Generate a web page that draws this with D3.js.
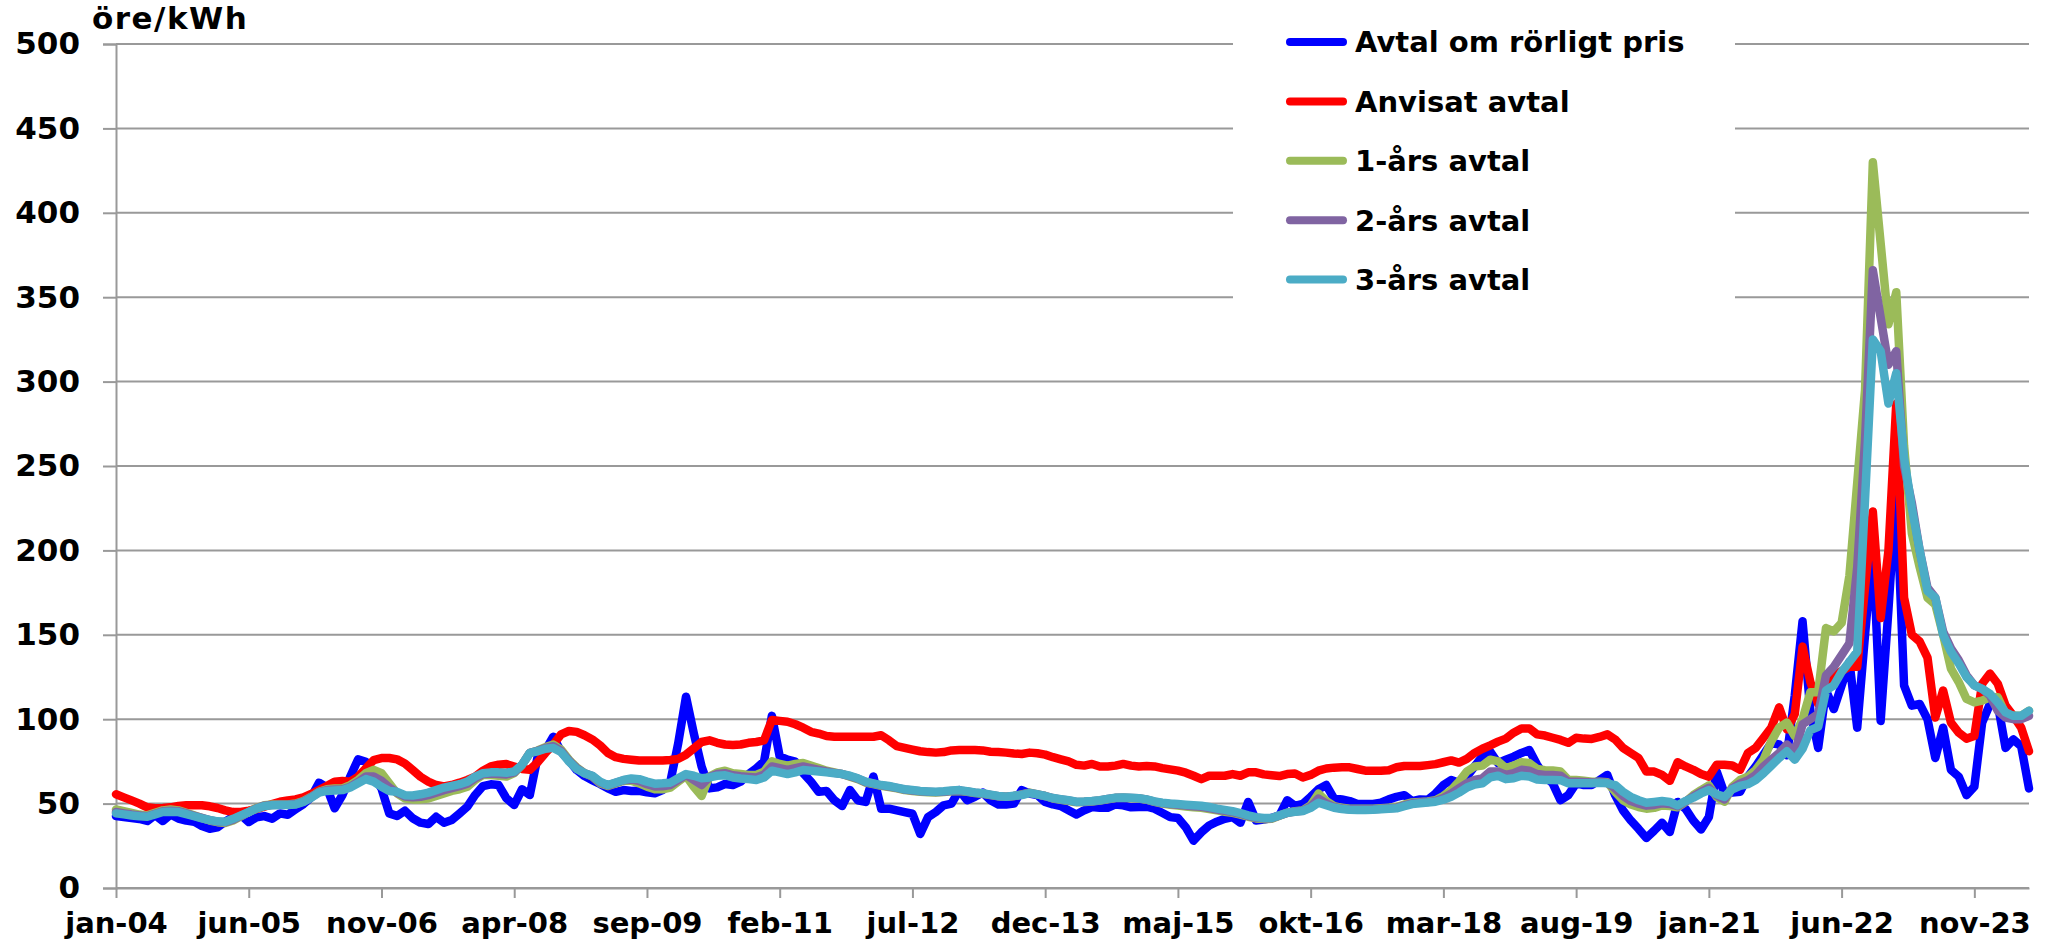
<!DOCTYPE html>
<html>
<head>
<meta charset="utf-8">
<script src="https://cdn.jsdelivr.net/npm/d3@7"></script>
<style>
  body { margin: 0; background: #fff; }
  svg text { font-family: "DejaVu Sans", Verdana, sans-serif; font-weight: bold; fill: #000; }
</style>
</head>
<body>
<div id="chart"></div>
<script>
const fig_width = 2068
const fig_height = 947

// month names used on the category axis (Swedish)
const monthNames = ['jan', 'feb', 'mar', 'apr', 'maj', 'jun', 'jul', 'aug', 'sep', 'okt', 'nov', 'dec']
const startYear = 2004
const nMonths = 246   // jan-04 .. jun-24

const tickLabels = ['jan-04', 'jun-05', 'nov-06', 'apr-08', 'sep-09', 'feb-11', 'jul-12', 'dec-13',
                    'maj-15', 'okt-16', 'mar-18', 'aug-19', 'jan-21', 'jun-22', 'nov-23']
const yTicks = [0, 50, 100, 150, 200, 250, 300, 350, 400, 450, 500]

const seriesNames = ['Avtal om rörligt pris', 'Anvisat avtal', '1-års avtal', '2-års avtal', '3-års avtal']
const seriesColours = ['#0000FF', '#FF0000', '#9BBB59', '#8064A2', '#4BACC6']

// öre/kWh, monthly
const rorligt = [
  42.6, 42.0, 41.5, 40.9, 39.7, 43.2, 39.7, 43.6, 41.1, 39.9,
  39.3, 36.7, 35.1, 35.9, 39.3, 42.2, 43.2, 39.1, 41.9, 42.6,
  41.1, 44.2, 43.4, 46.6, 49.7, 53.7, 62.4, 59.6, 47.2, 55.1,
  65.9, 76.2, 74.8, 66.3, 59.0, 44.2, 42.6, 45.8, 41.3, 38.7,
  37.9, 42.2, 38.7, 40.3, 44.2, 48.2, 55.1, 60.4, 61.4, 61.0,
  53.1, 49.2, 58.5, 55.1, 77.8, 81.7, 89.6, 80.8, 75.8, 69.9,
  66.3, 63.9, 61.6, 59.0, 57.0, 58.0, 57.5, 57.6, 56.7, 56.1,
  58.0, 63.0, 85.7, 113.3, 91.6, 71.9, 59.0, 59.6, 61.6, 61.0,
  63.0, 67.5, 70.9, 75, 102, 78, 76, 74.8, 68, 63,
  57, 57.5, 52, 48.6, 58, 52, 51, 66, 47, 47,
  46, 45, 44, 32, 42, 45, 49, 50, 58, 52,
  54, 56.5, 52, 49.5, 49.5, 50, 58, 56, 55, 51,
  49.5, 48.6, 46, 43.5, 46, 48, 47.5, 47.5, 49.5, 49,
  47.8, 48, 48.2, 47, 44.5, 42, 41.5, 36, 28, 33,
  37, 39.3, 41, 42, 38.7, 51, 40, 40.5, 41.5, 43,
  52, 48.6, 49.8, 54, 58.5, 61, 53, 52.5, 51.5, 49.8,
  49.8, 49.8, 50.5, 52.5, 54, 55, 51.5, 52.5, 52.3, 56,
  61, 64, 62.4, 66, 72, 78, 80.8, 74, 76, 77.8,
  80, 81.7, 73, 66, 62, 52, 55, 62, 61, 61,
  64, 67, 55, 46, 40, 35, 29.6, 34, 38.7, 33.2,
  51, 47, 40, 34.6, 42, 69, 56, 56.5, 57, 66,
  72, 79, 86, 85, 78.6, 114, 158, 105, 83, 117,
  106, 120, 134, 95, 150, 203, 99, 165, 236, 120,
  108, 109, 100, 77, 95, 70, 66, 55, 60, 98,
  109, 109, 83, 88, 84, 59
]
const anvisat = [
  55.5, 53.7, 51.9, 50.0, 47.8, 47.2, 47.4, 47.8, 48.6, 49.0,
  49.0, 49.0, 48.4, 47.4, 46.0, 45.0, 45.0, 45.8, 46.8, 48.2,
  49.7, 51.1, 51.9, 52.5, 53.7, 55.7, 58.0, 60.4, 63.0, 63.4,
  63.0, 65.9, 70.9, 75.8, 77.0, 77.0, 76.2, 73.8, 69.9, 65.9,
  63.0, 61.0, 60.2, 61.0, 62.4, 64.0, 66.0, 69.5, 72.0, 73.0,
  73.4, 72.0, 70.5, 70.0, 74.5, 80.0, 85.0, 91.0, 93.0, 92.5,
  90.5, 88, 84.5, 80, 77.5, 76.5, 76, 75.5, 75.5, 75.5,
  75.5, 75.8, 76.5, 79, 82.7, 86.5, 87.5, 86, 85, 84.7,
  85, 86, 86.5, 87.5, 99.5, 99, 98.5, 97, 95, 92.5,
  91.5, 90, 89.6, 89.6, 89.6, 89.6, 89.6, 89.6, 90.5, 87.5,
  84, 83, 82, 81, 80.5, 80.2, 80.5, 81.5, 81.7, 81.7,
  81.7, 81.5, 80.7, 80.5, 80.2, 79.7, 79.4, 80.2, 79.8, 79,
  77.5, 76.2, 75, 73, 72.5, 73.5, 72, 72, 72.5, 73.5,
  72.5, 72, 72.3, 72, 71, 70.3, 69.5, 68.3, 66.5, 64.5,
  66.5, 66.5, 66.5, 67.5, 66.5, 68.5, 68.5, 67.3, 66.8, 66.3,
  67.5, 67.8, 65.5, 67, 69.5, 70.8, 71.3, 71.5, 71.5, 70.5,
  69.5, 69.5, 69.5, 69.8, 71.5, 72.3, 72.3, 72.3, 72.8, 73.4,
  74.5, 75.6, 74.3, 76.5, 80, 82.5, 84.5, 86.7, 88.5, 92,
  94.5, 94.5, 91, 90.3, 89, 87.7, 86, 89, 88.5, 88.3,
  89.5, 91, 88, 83, 80, 77, 69, 69, 67, 63.5,
  74.5, 72, 70, 67.5, 66, 73, 73, 72.6, 70, 80,
  83, 89, 95, 107, 94, 103, 143, 122, 109, 122,
  125.5, 128.5, 131, 131, 178, 223, 160, 200, 287, 172,
  150, 146, 136.5, 101, 117, 98, 92, 88.5, 90, 121,
  127, 121, 108, 102, 95, 81
]
const ettars = [
  46.5, 45.5, 44.5, 43.5, 43.0, 44.5, 46.0, 46.5, 46.0, 44.5,
  43.0, 41.5, 40.0, 39.0, 38.5, 40.0, 42.5, 45.0, 47.5, 49.0,
  49.5, 49.5, 49.5, 50.0, 51.5, 54.0, 57.0, 58.5, 59.0, 59.0,
  61.0, 64.0, 68.0, 70.0, 68.0, 62.0, 56.0, 53.0, 52.5, 52.5,
  53.0, 54.5, 56.0, 57.5, 58.5, 60.0, 64.0, 67.0, 67.0, 66.5,
  66.0, 68.0, 73.0, 80.0, 81.5, 83.5, 85.0, 82.0, 76.0, 71.5,
  68.0, 66, 62, 60.5, 62, 63.5, 63.5, 62, 60, 58.5,
  58.5, 59.5, 63, 66.5, 60, 54.5, 66, 68.5, 69.5, 68,
  67.5, 67, 67, 69, 75, 73.5, 72.5, 73.5, 74, 72.5,
  71, 69.5, 68.5, 67.5, 66, 64.5, 62.5, 61.5, 60.5, 59.8,
  59, 58, 57.5, 57, 56.7, 56.5, 56.8, 57.3, 57.5, 57,
  56.3, 55.8, 55, 54.3, 54, 54.5, 55.5, 56.5, 55.5, 54.5,
  53, 52.3, 51.5, 50.8, 51, 51.3, 51.8, 52.5, 53.3, 53.5,
  53.2, 53, 52.3, 51, 50, 49.3, 48.8, 48.3, 47.8, 47.5,
  46.8, 46, 45.2, 44.5, 43.5, 42.2, 41.2, 40.8, 41, 42.8,
  44.5, 45.5, 46, 49, 56, 51.5, 48.5, 47.5, 47, 47,
  47, 47, 47.3, 47.6, 48, 49.5, 50.7, 51, 51.3, 52,
  54.5, 58, 63, 69, 72, 72.5, 76, 75, 71, 72.5,
  74.5, 74, 70.5, 69.8, 69.6, 69, 64, 64, 63.5, 63,
  63, 62.6, 57, 52, 49.5, 48, 47, 47.5, 48.9, 48.5,
  47.8, 51, 55, 58, 60.7, 54, 51.1, 60, 64, 66,
  70, 76, 87, 95, 98, 90, 100, 116, 116, 154,
  152, 157, 185, 240, 295, 430, 382, 334, 353, 262,
  210, 190, 172, 168, 150, 130, 122, 112, 110, 111,
  113, 113, 103, 102, 102, 105
]
const tvaars = [
  45.0, 44.2, 43.5, 43.0, 42.5, 44.0, 45.5, 45.8, 45.5, 44.2,
  42.8, 41.5, 40.2, 39.3, 39.0, 40.5, 42.8, 45.0, 47.2, 48.8,
  49.2, 49.3, 49.3, 49.7, 51.2, 53.8, 56.8, 58.0, 58.3, 58.5,
  60.0, 62.8, 66.0, 66.0, 63.5, 59.5, 56.5, 54.2, 53.8, 54.0,
  55.0, 56.5, 58.0, 59.2, 60.3, 61.8, 65.0, 67.5, 67.8, 67.6,
  67.3, 68.5, 73.0, 80.0, 81.3, 83.0, 84.0, 81.2, 75.5, 71.0,
  68, 66.3, 62.5, 60.8, 62.3, 63.8, 64.3, 63.3, 61.5, 60.2,
  60.3, 61, 64, 67, 64, 61, 65.8, 67.5, 68, 66.8,
  66.2, 65.8, 65.5, 67.2, 72, 71, 70, 71, 72, 71,
  70, 69, 68.2, 67.5, 66.2, 64.8, 62.8, 61.8, 60.8, 60.1,
  59.3, 58.3, 57.8, 57.3, 57, 56.8, 57, 57.5, 57.8, 57.2,
  56.5, 56, 55.2, 54.4, 54, 54.5, 55.3, 56.4, 55.5, 54.5,
  53.2, 52.5, 51.8, 51, 51.1, 51.4, 51.9, 52.7, 53.4, 53.5,
  53.3, 53.1, 52.4, 51.2, 50.3, 49.7, 49.3, 48.8, 48.4, 48.1,
  47.4, 46.5, 45.8, 45, 44, 42.6, 41.6, 41.2, 41.3, 42.9,
  44.5, 45.3, 45.8, 48.2, 53, 50.2, 48, 47.1, 46.6, 46.6,
  46.6, 46.6, 47, 47.2, 47.6, 49, 50.2, 50.6, 51, 51.6,
  53.4, 56, 59, 62, 64, 65, 69, 69, 67, 68,
  70, 69.5, 67.5, 67, 67, 66.5, 63, 63, 62.8, 62.5,
  62.6, 62.3, 59, 54.5, 51.5, 50, 48.8, 49.2, 50.2, 49.8,
  48.4, 51.2, 54.2, 57, 59.3, 54.8, 52.5, 59.2, 62, 63.8,
  67, 72, 76, 80, 85, 80, 97, 100, 103, 126,
  131, 138, 145, 190, 265, 366, 338, 310, 318, 250,
  228, 200, 178, 172, 152, 142, 135, 126, 120, 118,
  114, 105, 101, 100, 100, 102
]
const trears = [
  44.2, 43.6, 43.0, 42.5, 42.2, 43.6, 45.0, 45.2, 45.0, 43.8,
  42.5, 41.3, 40.3, 39.5, 39.3, 41.0, 43.0, 45.0, 47.0, 48.5,
  49.0, 49.2, 49.2, 49.5, 51.0, 53.5, 56.5, 57.5, 57.8, 58.0,
  59.5, 62.0, 64.5, 63.0, 60.0, 57.5, 57.0, 55.0, 54.8, 55.5,
  56.5, 58.0, 59.5, 60.5, 61.5, 63.0, 66.0, 68.0, 68.5, 68.5,
  68.3, 69.0, 73.0, 80.0, 81.0, 82.5, 83.0, 80.5, 75.0, 70.5,
  68.0, 66.5, 63, 61, 62.5, 64, 64.9, 64.5, 63, 61.8,
  62, 62.4, 65, 67.5, 66.5, 65, 65.5, 66.5, 66.8, 65.5,
  64.9, 64.5, 64, 65.5, 69.5, 68.5, 67.5, 68.5, 69.9, 69.5,
  69, 68.5, 68, 67.5, 66.5, 65, 63, 62, 61, 60.4,
  59.5, 58.5, 58, 57.5, 57.2, 57, 57.3, 57.8, 58, 57.3,
  56.6, 56.1, 55.3, 54.5, 54.1, 54.6, 55.1, 56.2, 55.5, 54.5,
  53.3, 52.6, 52, 51.1, 51.2, 51.5, 52, 52.8, 53.5, 53.6,
  53.4, 53.2, 52.5, 51.3, 50.5, 50, 49.7, 49.3, 49, 48.7,
  48, 47, 46.3, 45.5, 44.4, 43, 42, 41.5, 41.5, 43,
  44.6, 45.2, 45.6, 47.5, 50.5, 49, 47.5, 46.8, 46.3, 46.2,
  46.2, 46.3, 46.6, 46.9, 47.2, 48.5, 49.7, 50.2, 50.7, 51.1,
  52.3, 54, 56.5, 59.5, 61.3, 62, 65.5, 66.5, 64.5, 65,
  66.5, 66, 64.3, 64, 64, 63.9, 62, 62, 62, 62,
  62.3, 62, 61, 57, 54, 52, 50.5, 51, 51.5, 51,
  49, 51.5, 53.5, 56, 58, 55.5, 54, 58.5, 60.5, 61.5,
  64, 68, 72.5, 77, 81, 76, 82.5, 93.5, 95.5, 117,
  120, 128, 134, 140, 230, 325, 318, 287, 305, 255,
  225, 200, 176, 172, 150, 140, 133, 125, 120, 118,
  115, 110, 104, 102, 102, 105
]
const seriesValues = [rorligt, anvisat, ettars, tvaars, trears]

// category labels, e.g. "jan-04"
const categories = d3.range(nMonths).map(i =>
  `${monthNames[i % 12]}-${String((startYear + Math.floor(i / 12)) % 100).padStart(2, '0')}`)

const plotLeft = 116
const plotRight = 2029
const plotTop = 44
const plotBottom = 888

let x = d3.scalePoint().domain(categories).range([plotLeft, plotRight])
let y = d3.scaleLinear().domain([0, 500]).range([plotBottom, plotTop])

let fig = d3.select('#chart')
  .append('svg')
  .attr('width', fig_width)
  .attr('height', fig_height)

// horizontal gridlines
fig.append('g')
  .selectAll('line')
  .data(yTicks)
  .join('line')
  .attr('x1', plotLeft)
  .attr('x2', plotRight)
  .attr('y1', d => y(d))
  .attr('y2', d => y(d))
  .attr('stroke', '#999')
  .attr('stroke-width', 2)

// y axis
let yAxis = fig.append('g')
  .attr('transform', `translate(${plotLeft},0)`)
  .call(d3.axisLeft(y).tickValues(yTicks).tickSize(13).tickPadding(23))
yAxis.select('.domain').attr('stroke', '#999').attr('stroke-width', 2)
yAxis.selectAll('.tick line').attr('stroke', '#999').attr('stroke-width', 2)
yAxis.selectAll('.tick text').style('font-size', '31px')

// x axis
let xAxis = fig.append('g')
  .attr('transform', `translate(0,${plotBottom})`)
  .call(d3.axisBottom(x).tickValues(tickLabels).tickSize(10).tickPadding(14).tickSizeOuter(0))
xAxis.select('.domain').attr('stroke', '#999').attr('stroke-width', 2)
xAxis.selectAll('.tick line').attr('stroke', '#999').attr('stroke-width', 2)
xAxis.selectAll('.tick text').style('font-size', '29px')

// unit label
fig.append('text')
  .attr('x', 92)
  .attr('y', 29)
  .style('font-size', '31px')
  .style('letter-spacing', '1.5px')
  .text('öre/kWh')

// white legend box sits over the gridlines
fig.append('rect')
  .attr('x', 1233)
  .attr('y', 6)
  .attr('width', 502)
  .attr('height', 306)
  .attr('fill', '#fff')

// series lines
let line = d3.line()
  .x((d, i) => x(categories[i]))
  .y(d => y(d))

fig.append('g')
  .selectAll('path')
  .data(seriesValues)
  .join('path')
  .attr('d', d => line(d))
  .attr('fill', 'none')
  .attr('stroke', (d, i) => seriesColours[i])
  .attr('stroke-width', 8.5)
  .attr('stroke-linejoin', 'round')
  .attr('stroke-linecap', 'round')

// legend
let legend = fig.append('g')
  .selectAll('g')
  .data(seriesNames)
  .join('g')
  .attr('transform', (d, i) => `translate(0,${42 + i * 59.4})`)

legend.append('line')
  .attr('x1', 1290)
  .attr('x2', 1343)
  .attr('stroke', (d, i) => seriesColours[i])
  .attr('stroke-width', 8)
  .attr('stroke-linecap', 'round')

legend.append('text')
  .attr('x', 1355)
  .attr('dy', '0.36em')
  .style('font-size', '29px')
  .text(d => d)
</script>
</body>
</html>
